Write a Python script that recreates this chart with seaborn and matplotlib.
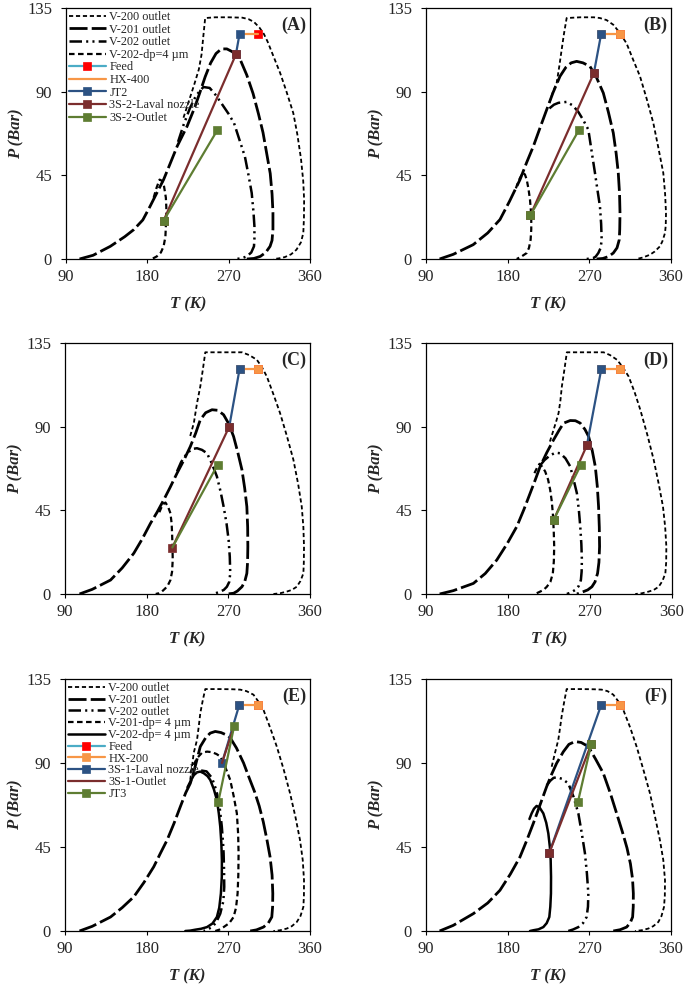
import matplotlib
matplotlib.use("Agg")
import matplotlib.pyplot as plt
import seaborn as sns
import pandas as pd

sns.set_style("ticks")
plt.rcParams['font.family'] = ['Liberation Serif', 'DejaVu Serif']
plt.rcParams['lines.scale_dashes'] = False

# ---------------- phase envelopes (T in K, P in bar) ----------------
# panel A
A_V200 = [(220, 76), (226, 85), (232, 94), (237, 102), (240, 110), (242, 120), (244, 129.6), (255, 130), (270, 130),
          (285, 129.8), (292, 129), (298, 127.5), (304, 124.5), (309, 121), (313, 117), (320, 108.5), (327, 100),
          (334, 90), (341.5, 78.5), (346, 67), (350, 54), (352.5, 42), (353.5, 31.9), (353.3, 22), (352.6, 14),
          (350, 9), (345, 5), (339, 2.5), (332, 1), (325, 0.3), (319.5, 0)]
A_V201 = [(105, 0), (120, 2), (139, 6.8), (155, 12), (165, 15.8), (175, 21), (183, 28.3), (191, 36), (198, 42.7),
          (205, 51), (213, 60.6), (224, 71.4), (232, 81), (238, 89.3), (244, 98), (250, 105.4), (256, 110.5),
          (262, 113), (268, 113), (274, 111.5), (283, 107), (290, 99), (297, 89), (303, 78), (308, 68), (312, 57),
          (316, 46), (318, 35), (319, 25), (319, 16), (318, 10), (315.8, 6.8), (311, 3.5), (305, 1.4), (298, 0.3),
          (290, 0)]
A_V202 = [(214, 63), (220, 72), (227, 81), (234, 88), (242, 92.5), (249, 92), (256, 88), (263, 83), (270, 78),
          (276, 73), (282, 64), (288, 55), (292, 45), (295.5, 35.5), (297.5, 25), (298.5, 17.6), (298.5, 11),
          (298, 6.8), (295, 3.5), (290, 1.4), (284, 0.3), (277, 0)]
A_DP = [(187, 33), (190, 38), (193.5, 42.7), (196.5, 42), (198.5, 39), (200.5, 33), (201, 28), (201, 22),
        (200.5, 17.6), (200, 12), (198, 6.8), (195, 3.5), (190.5, 1.4), (185, 0)]

# panel B
B_V200 = [(226, 84), (230, 90), (234, 94.7), (237, 104), (239.5, 112.6), (242, 121), (245, 129.6), (260, 130),
          (275, 130), (281.7, 129.6), (289, 128.5), (296.4, 126), (303, 122), (311, 116), (318, 107.5),
          (325.8, 98.3), (333, 86.5), (340.5, 73.2), (346, 60), (351.5, 46.3), (353.5, 35), (354.5, 24.7),
          (354.2, 18), (353.4, 14), (350.5, 9.5), (347.8, 6.8), (342, 4), (336.8, 2.3), (329, 0.8), (322, 0)]
B_V201 = [(105, 0), (120, 2.5), (142, 7.7), (158, 14), (171.5, 21.2), (182, 31), (193.6, 42.7), (201, 52),
          (208.3, 60.6), (216, 71), (223, 80.3), (230, 89.5), (237.7, 98.3), (244, 103), (250, 105.5), (256, 106.3),
          (263, 105.5), (270.7, 103.6), (278, 97.5), (285.4, 89.3), (291, 79), (296.4, 67.8), (299.5, 57),
          (301.9, 46.3), (303.3, 35), (303.8, 24.7), (303.5, 16), (303, 10.4), (300.5, 6), (296.4, 3.2),
          (291, 1.3), (285, 0.3), (278, 0)]
B_V202 = [(226, 81), (231, 83), (236, 84), (245, 84.5), (252, 82.5), (258, 79), (263, 75), (268.9, 69.6),
          (272.5, 58), (276.2, 46.3), (279, 37), (281.7, 28.3), (283, 19), (283.6, 10.4), (282.5, 6),
          (279.9, 3.2), (277, 1.3), (274.4, 0.5), (267, 0)]
B_DP = [(189, 38), (193, 43), (196.5, 46.3), (199, 45.5), (201, 42.7), (203, 37.5), (204.6, 31.9), (205.5, 26.5),
        (206, 21.2), (206, 16), (205.3, 10.4), (203.5, 6), (200.9, 3.2), (195.4, 1.4), (190, 0)]

# panel C
C_V200 = [(228, 85), (232, 92), (235.5, 102.7), (239.1, 111.6), (242, 121), (244.6, 130), (260, 130), (275, 130),
          (285, 130), (293, 128.5), (301.4, 126), (307, 122), (312.4, 117), (320, 107), (327, 97.3), (334.5, 85),
          (341.7, 72.2), (347, 59), (350.9, 47), (352.7, 36), (353.4, 25.5), (353.2, 17), (352.7, 11.1),
          (349.5, 7), (345.4, 3.9), (340, 2.2), (334.4, 1.3), (327, 0.4), (319.7, 0)]
C_V201 = [(106, 0), (120, 2.5), (140.2, 7.5), (153, 14), (165.8, 21.9), (175, 29.5), (184.2, 38), (191.5, 44),
          (198.8, 50.6), (206, 57.5), (213.5, 65), (221, 72), (228.1, 79.3), (234, 86.5), (239.1, 93.7),
          (245, 97.5), (252, 99.1), (258.5, 98.8), (264.8, 96.4), (270.5, 91.5), (275.8, 84.7), (280.5, 76),
          (285, 66.8), (288, 57), (290.4, 47), (291.3, 36), (291.5, 25.5), (291.2, 17), (290.4, 11.1), (288, 6.5),
          (285, 3.9), (280, 1.6), (275.8, 0.4), (268.4, 0)]
C_V202 = [(213.5, 66), (218, 71), (224.5, 75.7), (230, 78), (235.5, 78.4), (241, 77.5), (246.5, 75.7), (252, 70),
          (257.4, 63.2), (261.5, 55), (264.8, 47), (268, 38), (270.3, 29.1), (271.6, 20), (272.1, 11.1),
          (271, 6.5), (268.4, 3.9), (265, 2.2), (261.1, 1.3), (253.8, 0)]
C_DP = [(194, 44), (197.5, 48), (200.7, 49.2), (203.5, 47), (206.2, 43.4), (207.5, 38), (208, 32.7), (208.5, 25),
        (208.7, 18.3), (208, 12), (206.2, 7.5), (203.5, 4.8), (200.7, 3.1), (197, 1.4), (193.3, 0.4), (190, 0)]

# panel D
D_V200 = [(226, 82), (230, 88.3), (233, 93), (235.5, 97.3), (237.5, 104), (239.1, 111.6), (242, 121), (244.6, 130),
          (260, 130), (275, 130), (284.9, 130), (292, 128.5), (299.6, 126), (306, 122), (312.4, 117), (319, 108.5),
          (325.2, 99.1), (333, 85.5), (339.9, 72.2), (345.5, 59), (350.1, 47), (352.5, 36), (353.8, 25.5),
          (353.6, 17), (352.7, 11.1), (349.5, 7), (345.4, 3.9), (340, 2.2), (334.4, 1.3), (327, 0.4), (319.7, 0)]
D_V201 = [(105, 0), (120, 1.8), (142, 5.7), (155, 11), (167.7, 18.3), (179, 27), (189.7, 36.3), (197.5, 45.5),
          (204.3, 54.2), (210, 61.5), (215.3, 68.6), (222.5, 76), (230, 82.9), (236, 88), (241, 91.9),
          (248.3, 93.3), (254, 93.2), (259.3, 91.9), (264.5, 88.5), (268.5, 84.7), (272.5, 77), (275.8, 68.6),
          (278, 58), (279.4, 47), (280.2, 36), (280.5, 25.5), (279.8, 17), (278.3, 11.1), (275.5, 6.5),
          (272.1, 3.9), (267.5, 2.2), (262.9, 1.3), (255.6, 0)]
D_V202 = [(215, 69), (220, 72), (226, 74.5), (232, 76), (237.3, 75.7), (243, 73), (248.3, 68.6), (252, 61.5),
          (255.6, 54.2), (257.8, 45), (259.3, 36.3), (260.5, 27), (261.1, 18.3), (260.8, 12), (260, 7.5),
          (257.5, 4.2), (253.8, 2.2), (249, 0.8), (244.6, 0)]
D_DP = [(209, 65), (212, 68), (214.6, 70), (217.5, 68.5), (220.8, 65.9), (224, 61.5), (226.3, 56), (228, 50),
        (229.2, 43.4), (230.2, 34), (230.7, 25.5), (230.3, 17.5), (229.2, 11.1), (226.5, 6.5), (222.6, 3.9),
        (219, 2.2), (215.3, 1.3), (211.5, 0.4), (208, 0)]

# panel E
E_V200 = [(228, 81), (230, 88), (231.8, 95.3), (235.5, 102.4), (237.5, 110), (239.1, 116.7), (242, 124),
          (244.6, 129.6), (260, 129.6), (275, 129.5), (283.1, 129.3), (290, 128.5), (297.7, 126.6), (303, 123),
          (308.7, 118.5), (316, 109), (323.4, 98.8), (331, 86.5), (338, 73.8), (344, 61), (349, 48.7), (352, 38),
          (353.4, 27.2), (353.3, 19), (352.7, 12.9), (349.5, 8), (345.4, 4.8), (340, 2.6), (334.4, 1.3),
          (327, 0.4), (319.7, 0)]
E_V201 = [(106, 0), (120, 2.5), (140.2, 7.5), (153, 12.5), (165.8, 18.3), (177, 26), (187.8, 34.4), (195, 41.5),
          (202.5, 48.7), (210, 57.5), (217.1, 66.6), (223, 74), (228.1, 79.1), (231.8, 85), (235.5, 92),
          (239.1, 98.8), (245, 103.5), (250, 106), (255.6, 106.9), (262, 106.3), (268, 105), (272.1, 103.5),
          (279, 98), (286.8, 90), (293, 82), (299, 74.5), (304, 67), (308.5, 58.5), (312.5, 49), (316, 39.7),
          (318.2, 30), (319, 20.1), (318.8, 13), (317.9, 7.5), (314, 4.2), (308.7, 2.1), (301, 0.6), (294.1, 0)]
E_V202 = [(240, 86), (246, 85.5), (252, 82), (257, 75), (260.5, 66), (262.8, 56), (264.2, 47), (264.8, 41.5),
          (265.3, 32), (265.5, 23.6), (264.5, 16), (261.1, 9.3), (256.5, 4.5), (251.9, 2.1), (247, 0.8),
          (242.8, 0)]
E_V201DP = [(228, 84.5), (231.8, 89), (235.5, 92.6), (241, 95.5), (246.5, 96.1), (252, 95.8), (257, 94.8),
            (261.1, 93.5), (266.5, 88), (272.1, 80.9), (276, 72), (279.4, 63), (280.8, 52), (281.3, 41.5),
            (281, 30), (280.2, 20.1), (278.5, 12.5), (275.8, 7.5), (271, 4.2), (264.8, 2.1), (260, 0.7),
            (255.6, 0)]
E_V202DP = [(225, 77), (228.1, 80), (232, 83.5), (235.5, 85), (239.1, 85.4), (243, 84.5), (247, 83), (250.1, 80.9),
            (254, 76), (257.4, 70.2), (259.5, 63), (261.1, 55.9), (262.3, 47), (262.9, 38), (262.8, 29),
            (261.8, 20.1), (260, 12.5), (257.4, 7.5), (252.5, 4), (246.5, 2.1), (240, 1.2), (233.6, 0.7),
            (228, 0.2), (222.6, 0)]

# panel F
F_V200 = [(228.5, 88), (232.1, 95.3), (235.8, 102.4), (237.5, 108), (239.5, 115), (242, 122), (245, 129.6),
          (260, 129.6), (275, 129.5), (283.6, 129.3), (290, 128.5), (296.4, 126.6), (302, 123), (307.4, 118.5),
          (315, 109), (322.1, 98.8), (329.5, 86.5), (336.8, 73.8), (342.5, 61), (347.8, 48.7), (351.5, 38),
          (353.4, 27.2), (353.2, 19), (352.3, 12.9), (349.5, 8), (346, 4.8), (340.5, 2.6), (335, 1.3),
          (327.5, 0.4), (320.3, 0)]
F_V201 = [(105, 0), (120, 3), (142.2, 9.3), (158, 15), (171.5, 21.8), (183, 30.5), (193.6, 39.7), (201, 48.5),
          (208.3, 57.7), (216, 68), (223, 77.4), (228.5, 84), (234, 89.9), (241.3, 96), (247.5, 100),
          (254.2, 101.5), (261, 101), (268.9, 98.8), (277, 92), (285.4, 84.5), (293, 74), (300.1, 63),
          (306.5, 53), (311.5, 44.5), (315.3, 36), (317.6, 28), (318.5, 20.1), (318.4, 13), (317.7, 7.5),
          (315, 4.3), (311.1, 2.1), (304, 0.7), (296.4, 0)]
F_V202 = [(223, 78), (227, 80.5), (230.5, 82), (234, 82.4), (240, 81.5), (246.8, 79.1), (252.5, 72), (257.9, 63),
          (261.8, 52), (265.2, 41.5), (267.3, 31), (268.9, 20.1), (268.5, 13), (267, 7.5), (263, 4.2),
          (257.9, 2.1), (252, 0.8), (246.8, 0)]
F_DP = [(204, 60), (206.4, 63), (209, 65.5), (211.9, 67), (215, 66.3), (219.3, 63), (222.5, 58), (224.8, 52.3),
        (226.5, 45), (227.4, 38), (227.8, 29), (227.7, 20.1), (227, 13), (225.9, 7.5), (223, 4.2), (219.3, 2.1),
        (214, 0.9), (208.3, 0.4), (204.6, 0)]

# ---------------- process streams ----------------
A_FEED = [(303, 121)]
A_HX = [(303, 121), (282, 121)]
A_JT = [(282, 121), (278, 110)]
A_NOZ = [(278, 110), (198, 20.6)]
A_OUT = [(198, 20.6), (257.6, 69.4)]

B_FEED = [(304, 121)]
B_HX = [(304, 121), (283, 121)]
B_JT = [(283, 121), (275, 100)]
B_NOZ = [(275, 100), (205, 23.5)]
B_OUT = [(205, 23.5), (258.6, 69.4)]

C_FEED = [(303, 121)]
C_HX = [(303, 121), (282.4, 121)]
C_JT = [(282.4, 121), (271, 90)]
C_NOZ = [(271, 90), (208.3, 25)]
C_OUT = [(208.3, 25), (258.2, 69.5)]

D_FEED = [(303, 121)]
D_HX = [(303, 121), (282.4, 121)]
D_JT = [(282.4, 121), (266.6, 80)]
D_NOZ = [(266.6, 80), (230.3, 40)]
D_OUT = [(230.3, 40), (260, 69.5)]

E_FEED = [(302.5, 121)]
E_HX = [(302.5, 121), (282, 121)]
E_NOZ = [(282, 121), (263, 90)]
E_OUT = [(263, 90), (276.5, 110)]
E_JT = [(276.5, 110), (259, 69.3)]

F_FEED = [(304, 121)]
F_HX = [(304, 121), (283, 121)]
F_NOZ = [(283, 121), (226, 42)]
F_OUT = [(226, 42), (272, 100)]
F_JT = [(272, 100), (257.5, 69.3)]

LEG_A = ['V-200 outlet', 'V-201 outlet', 'V-202 outlet', 'V-202-dp=4 µm',
         'Feed', 'HX-400', 'JT2', '3S-2-Laval nozzle', '3S-2-Outlet']
LEG_E = ['V-200 outlet', 'V-201 outlet', 'V-202 outlet', 'V-201-dp= 4 µm', 'V-202-dp= 4 µm',
         'Feed', 'HX-200', '3S-1-Laval nozzle', '3S-1-Outlet', 'JT3']

# colours
FEED_LINE = '#4BACC6'
FEED_MK = '#FF0000'
ORANGE = '#F79646'
BLUE = '#2C5283'
BROWN = '#7B2D2D'
GREEN = '#5E7D32'

SHORT = dict(lw=1.3, ls=(0, (3, 2)))
LONG = dict(lw=2.0, ls=(0, (13, 3)))
DDOT = dict(lw=1.8, ls=(0, (9, 3, 1.5, 3, 1.5, 3)))
SHORT2 = dict(lw=1.6, ls=(0, (4, 2.5)))
SOLID = dict(lw=1.8, ls='-')


def curve(ax, pts, sty, label=None):
    df = pd.DataFrame(pts, columns=['T', 'P'])
    sns.lineplot(data=df, x='T', y='P', sort=False, estimator=None, ax=ax, color='black',
                 linewidth=sty['lw'], linestyle=sty['ls'], label=label, legend=False)


def stream(ax, pts, color, mk=None, label=None, markevery=None, markers=True):
    df = pd.DataFrame(pts, columns=['T', 'P'])
    kw = dict(color=color, linewidth=1.6)
    if markers:
        kw.update(marker='s', markersize=6, markerfacecolor=mk or color,
                  markeredgecolor=mk or color, markeredgewidth=0.5)
        if markevery is not None:
            kw['markevery'] = markevery
    sns.lineplot(data=df, x='T', y='P', sort=False, estimator=None, ax=ax,
                 label=label, legend=False, **kw)


fig = plt.figure(figsize=(6.85, 9.86), dpi=100)
W, H = 685, 986


def make_ax(left, right, top, bottom):
    return fig.add_axes([left / W, 1 - bottom / H, (right - left) / W, (bottom - top) / H])


axA = make_ax(66, 310, 8, 259)
axB = make_ax(426, 671, 8, 259)
axC = make_ax(65, 310, 343, 594)
axD = make_ax(426, 672, 343, 594)
axE = make_ax(65, 310, 679, 931)
axF = make_ax(426, 671, 679, 931)

# A
la = LEG_A
curve(axA, A_V200, SHORT, la[0])
curve(axA, A_V201, LONG, la[1])
curve(axA, A_V202, DDOT, la[2])
curve(axA, A_DP, SHORT2, la[3])
stream(axA, A_FEED, FEED_LINE, FEED_MK, la[4])
stream(axA, A_HX, ORANGE, label=la[5], markers=False)
stream(axA, A_JT, BLUE, label=la[6])
stream(axA, A_NOZ, BROWN, label=la[7])
stream(axA, A_OUT, GREEN, label=la[8])

# B, C, D
for ax, env, proc, mev in [
    (axB, (B_V200, B_V201, B_V202, B_DP), (B_FEED, B_HX, B_JT, B_NOZ, B_OUT), None),
    (axC, (C_V200, C_V201, C_V202, C_DP), (C_FEED, C_HX, C_JT, C_NOZ, C_OUT), [1]),
    (axD, (D_V200, D_V201, D_V202, D_DP), (D_FEED, D_HX, D_JT, D_NOZ, D_OUT), None),
]:
    for pts, sty in zip(env, (SHORT, LONG, DDOT, SHORT2)):
        curve(ax, pts, sty)
    stream(ax, proc[0], FEED_LINE, FEED_MK)
    stream(ax, proc[1], ORANGE)
    stream(ax, proc[2], BLUE)
    stream(ax, proc[3], BROWN)
    stream(ax, proc[4], GREEN, markevery=mev)

# E
le = LEG_E
curve(axE, E_V200, SHORT, le[0])
curve(axE, E_V201, LONG, le[1])
curve(axE, E_V202, DDOT, le[2])
curve(axE, E_V201DP, SHORT2, le[3])
curve(axE, E_V202DP, SOLID, le[4])
stream(axE, E_FEED, FEED_LINE, FEED_MK, le[5])
stream(axE, E_HX, ORANGE, label=le[6])
stream(axE, E_NOZ, BLUE, label=le[7])
stream(axE, E_OUT, BROWN, label=le[8], markers=False)
stream(axE, E_JT, GREEN, label=le[9])

# F
curve(axF, F_V200, SHORT)
curve(axF, F_V201, LONG)
curve(axF, F_V202, DDOT)
curve(axF, F_DP, SOLID)
stream(axF, F_FEED, FEED_LINE, FEED_MK)
stream(axF, F_HX, ORANGE)
stream(axF, F_NOZ, BLUE)
stream(axF, F_OUT, BROWN)
stream(axF, F_JT, GREEN)

for ax, tag in zip([axA, axB, axC, axD, axE, axF], 'ABCDEF'):
    ax.set_xlim(90, 360)
    ax.set_ylim(0, 135)
    ax.set_xticks([90, 180, 270, 360])
    ax.set_yticks([0, 45, 90, 135])
    ax.tick_params(axis='both', direction='out', labelsize=12, color='black', width=0.8)
    ax.tick_params(axis='y', length=3.5, pad=6.5)
    ax.tick_params(axis='x', length=3, pad=4.5)
    for s in ax.spines.values():
        s.set_visible(True)
        s.set_color('black')
        s.set_linewidth(0.9)
    ax.set_xlabel('T (K)', fontsize=12, fontweight='bold', fontstyle='italic', labelpad=8)
    ax.set_ylabel('P (Bar)', fontsize=12, fontweight='bold', fontstyle='italic', labelpad=2)
    ax.text(0.985, 0.965, f'({tag})', transform=ax.transAxes, ha='right', va='top',
            fontsize=13, fontweight='bold')

for ax, sp in ((axA, 0.05), (axE, -0.02)):
    ax.legend(loc='upper left', bbox_to_anchor=(0.0, 1.0), frameon=False, fontsize=8.8,
              handlelength=3.0, handletextpad=0.3, labelspacing=sp, borderpad=0.25,
              borderaxespad=0.0)

fig.savefig('out.png', dpi=100)
